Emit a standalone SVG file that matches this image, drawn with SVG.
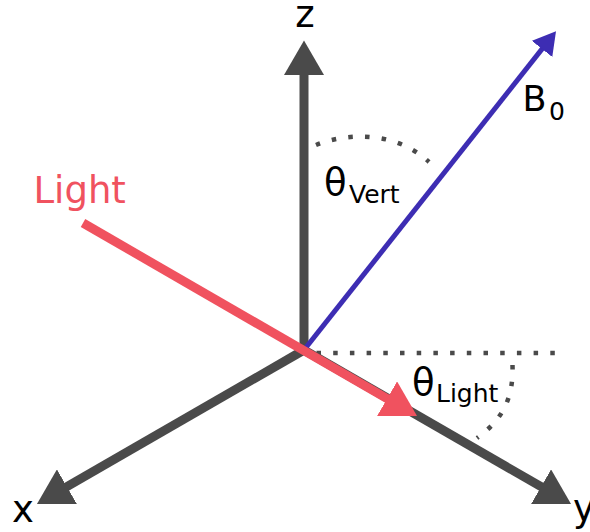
<svg xmlns="http://www.w3.org/2000/svg" width="590" height="532" viewBox="0 0 590 532">
<style>
.ax{stroke:#4a4a4a;stroke-width:9;fill:none}
.dot{stroke:#4a4a4a;stroke-width:4.5;fill:none;stroke-dasharray:4.5 12.2}
.lbl{font-family:"DejaVu Sans","Liberation Sans",sans-serif;font-size:37px;fill:#000}
.sub{font-family:"DejaVu Sans","Liberation Sans",sans-serif;font-size:25px;fill:#000}
</style>
<defs>
<marker id="ag" markerUnits="userSpaceOnUse" markerWidth="36" markerHeight="40" viewBox="0 0 36 40" refX="2" refY="20" orient="auto"><path d="M0,0 L34.6,20 L0,40z" fill="#4a4a4a"/></marker>
<marker id="ar" markerUnits="userSpaceOnUse" markerWidth="36" markerHeight="40" viewBox="0 0 36 40" refX="2" refY="20" orient="auto"><path d="M0,0 L34.6,20 L0,40z" fill="#f0525f"/></marker>
<marker id="ab" markerUnits="userSpaceOnUse" markerWidth="24" markerHeight="26" viewBox="0 0 24 26" refX="2" refY="13" orient="auto"><path d="M0,0 L22.5,13 L0,26z" fill="#3d2db3"/></marker>
</defs>
<g id="connectors">
<line id="z-axis" class="ax" x1="304" y1="350" x2="304" y2="73" marker-end="url(#ag)"/>
<line id="x-axis" class="ax" x1="304" y1="350" x2="65.2" y2="487.7" marker-end="url(#ag)"/>
<line id="y-axis" class="ax" x1="304" y1="350" x2="542.8" y2="487.7" marker-end="url(#ag)"/>
<path id="horizontal" class="dot" d="M316.5,353 H560"/>
<path id="arc-vert" class="dot" d="M316,145 C345,133 395,130 429,162"/>
<path id="arc-light" class="dot" d="M512.5,365 C513.5,395 505,418 477,438"/>
<line id="b0-line" x1="304" y1="350" x2="543.3" y2="47.4" stroke="#3d2db3" stroke-width="5" marker-end="url(#ab)"/>
<line id="light-line" x1="83" y1="223" x2="388.8" y2="399.7" stroke="#f0525f" stroke-width="9" marker-end="url(#ar)"/>
</g>
<g id="label-z"><text class="lbl" x="305" y="27" text-anchor="middle">z</text></g>
<g id="label-x"><text class="lbl" x="12" y="522">x</text></g>
<g id="label-y"><text class="lbl" x="573" y="521">y</text></g>
<g id="label-light"><text class="lbl" x="33.5" y="203" fill="#f0525f" style="fill:#f0525f">Light</text></g>
<g id="label-b0"><text class="lbl" x="522.6" y="111" style="font-size:35px">B</text><text class="sub" x="549" y="120">0</text></g>
<g id="label-theta-vert"><text class="lbl" x="324" y="195">θ</text><text class="sub" x="349" y="203">Vert</text></g>
<g id="label-theta-light"><text class="lbl" x="412" y="395">θ</text><text class="sub" x="436" y="402">Light</text></g>
</svg>
